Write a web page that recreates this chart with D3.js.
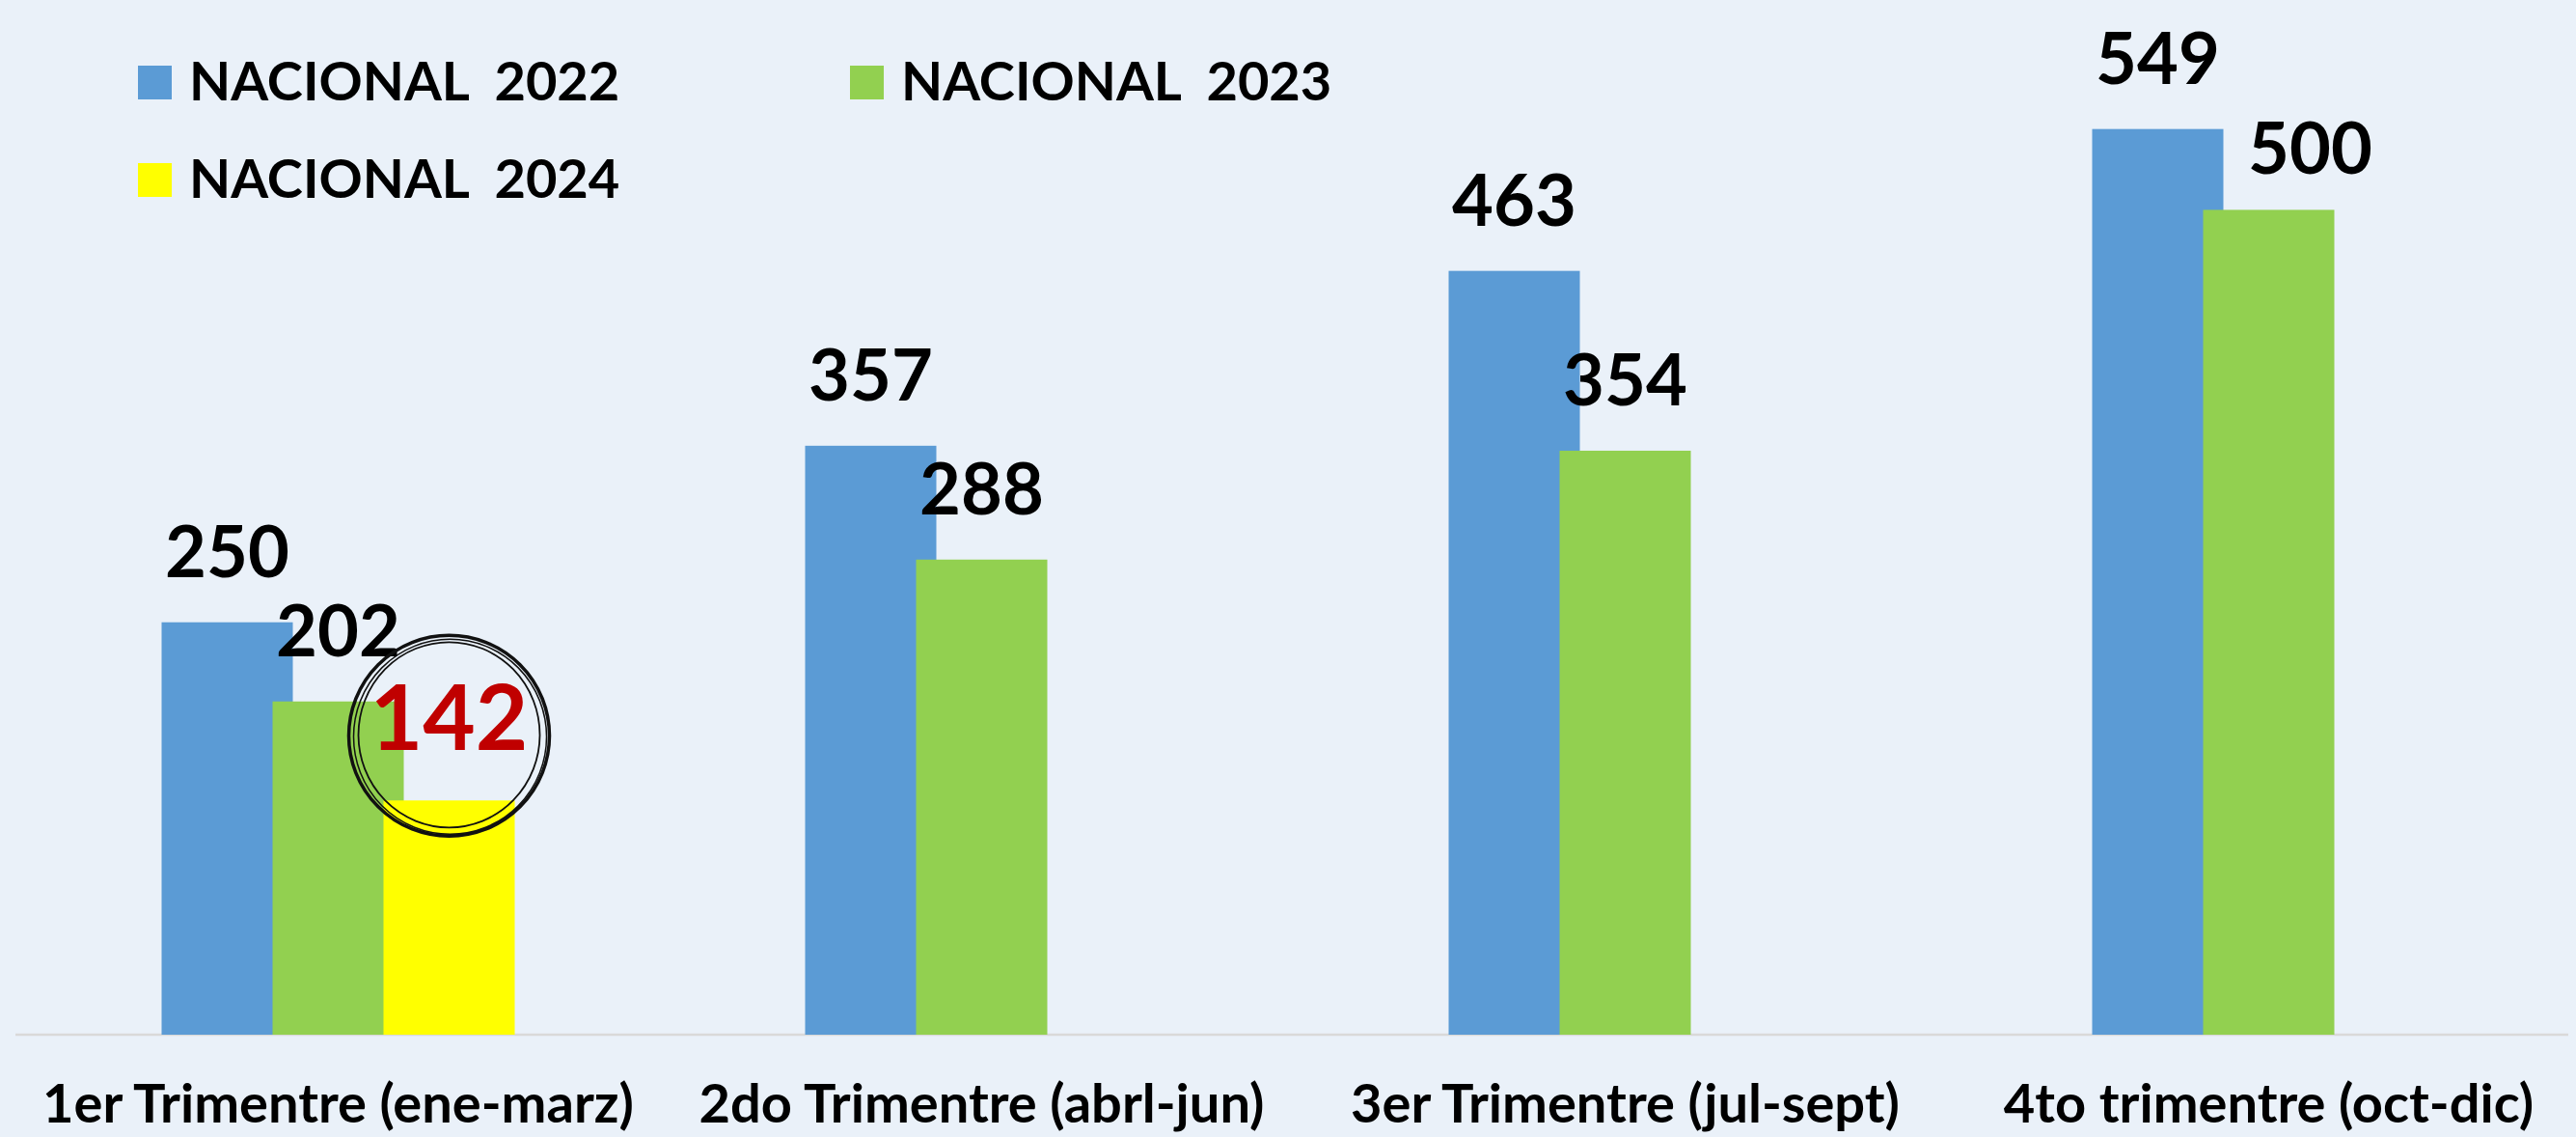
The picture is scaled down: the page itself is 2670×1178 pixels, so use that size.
<!DOCTYPE html>
<html>
<head>
<meta charset="utf-8">
<script src="https://cdn.jsdelivr.net/npm/d3@7"></script>
<style>
  html, body { margin: 0; padding: 0; background: #eaf1f9; }
  svg { display: block; }
  text { font-family: Lato, 'Open Sans', sans-serif; font-weight: 700; white-space: pre; }
</style>
</head>
<body>
<svg id="chart"></svg>
<script>
// ── données ───────────────────────────────────────────────
const categories = ['1er Trimentre (ene-marz)', '2do Trimentre (abrl-jun)', '3er Trimentre (jul-sept)', '4to trimentre (oct-dic)'];
const seriesNames = ['NACIONAL  2022', 'NACIONAL  2023', 'NACIONAL  2024'];
const values2022 = [250, 357, 463, 549];
const values2023 = [202, 288, 354, 500];
const values2024 = [142, null, null, null];
const seriesColors = ['#5b9bd5', '#92d050', '#ffff00'];

const W = 2670, H = 1178;
const svg = d3.select('#chart').attr('width', W).attr('height', H);
svg.append('rect').attr('width', W).attr('height', H).attr('fill', '#eaf1f9');

const series = seriesNames.map((name, i) => ({
  name, color: seriesColors[i],
  values: [values2022, values2023, values2024][i]
}));

// scales
const x0 = d3.scaleBand().domain(categories).range([17, 2685]);
const x1 = d3.scaleBand().domain(seriesNames).range([0, 345]);
const barW = 136;
const clusterOff = (x0.bandwidth() - (x1.step() * 2 + barW)) / 2 + (barW - x1.step()) / 2;
const y = d3.scaleLinear().domain([0, 600]).range([1072, 46.5]);

const barX = (cat, s) => x0(cat) + clusterOff + x1(s) - (barW - x1.step()) / 2;

// axis line
svg.append('line').attr('x1', 16).attr('x2', 2662).attr('y1', y(0)).attr('y2', y(0))
  .attr('stroke', '#d9d9d9').attr('stroke-width', 2.5);

// bars
series.forEach(s => {
  const pts = categories.map((c, i) => ({ c, v: s.values[i] })).filter(d => d.v != null);
  svg.append('g').selectAll('rect').data(pts).enter().append('rect')
    .attr('x', d => barX(d.c, s.name))
    .attr('y', d => y(d.v))
    .attr('width', barW)
    .attr('height', d => y(0) - y(d.v))
    .attr('fill', s.color);
});

// labels (le "500" a été déplacé à la main dans l'original)
series.forEach((s, si) => {
  const pts = categories.map((c, i) => ({ c, i, v: s.values[i] })).filter(d => d.v != null);
  const big = si === 2;
  const moved = d => si === 1 && d.i === 3;
  svg.append('g').selectAll('text').data(pts).enter().append('text')
    .attr('x', d => barX(d.c, s.name) + barW / 2 + (moved(d) ? 43 : 0))
    .attr('y', d => y(d.v) - (big ? 52 : moved(d) ? 37 : 47))
    .attr('text-anchor', 'middle')
    .attr('font-size', big ? 94 : 74)
    .attr('fill', big ? '#c00000' : '#000')
    .text(d => d.v);
});

// cercle dessiné autour de la valeur 2024
const cx = barX(categories[0], seriesNames[2]) + barW / 2;
const cy = y(values2024[0]) - 68;
const ring = svg.append('g').attr('fill', 'none').attr('stroke', '#111');
ring.append('ellipse').attr('cx', cx).attr('cy', cy + 1).attr('rx', 104).attr('ry', 104).attr('stroke-width', 3.5);
ring.append('ellipse').attr('cx', cx + 1).attr('cy', cy + 2).attr('rx', 100).attr('ry', 101).attr('stroke-width', 1.5);
ring.append('ellipse').attr('cx', cx).attr('cy', cy).attr('rx', 94).attr('ry', 96).attr('stroke-width', 1.8);

// category labels
svg.append('g').selectAll('text').data(categories).enter().append('text')
  .attr('x', d => x0(d) + x0.bandwidth() / 2)
  .attr('y', 1163)
  .attr('text-anchor', 'middle')
  .attr('font-size', 56)
  .attr('fill', '#000')
  .text(d => d);

// legend
const legendPos = [[143, 68], [881, 68], [143, 169]];
const leg = svg.append('g').selectAll('g').data(series).enter().append('g')
  .attr('transform', (d, i) => `translate(${legendPos[i][0]},${legendPos[i][1]})`);
leg.append('rect').attr('width', 35).attr('height', 35).attr('fill', d => d.color);
leg.append('text').attr('x', 53).attr('y', 36).attr('font-size', 56).attr('fill', '#000')
  .text(d => d.name);
</script>
</body>
</html>
